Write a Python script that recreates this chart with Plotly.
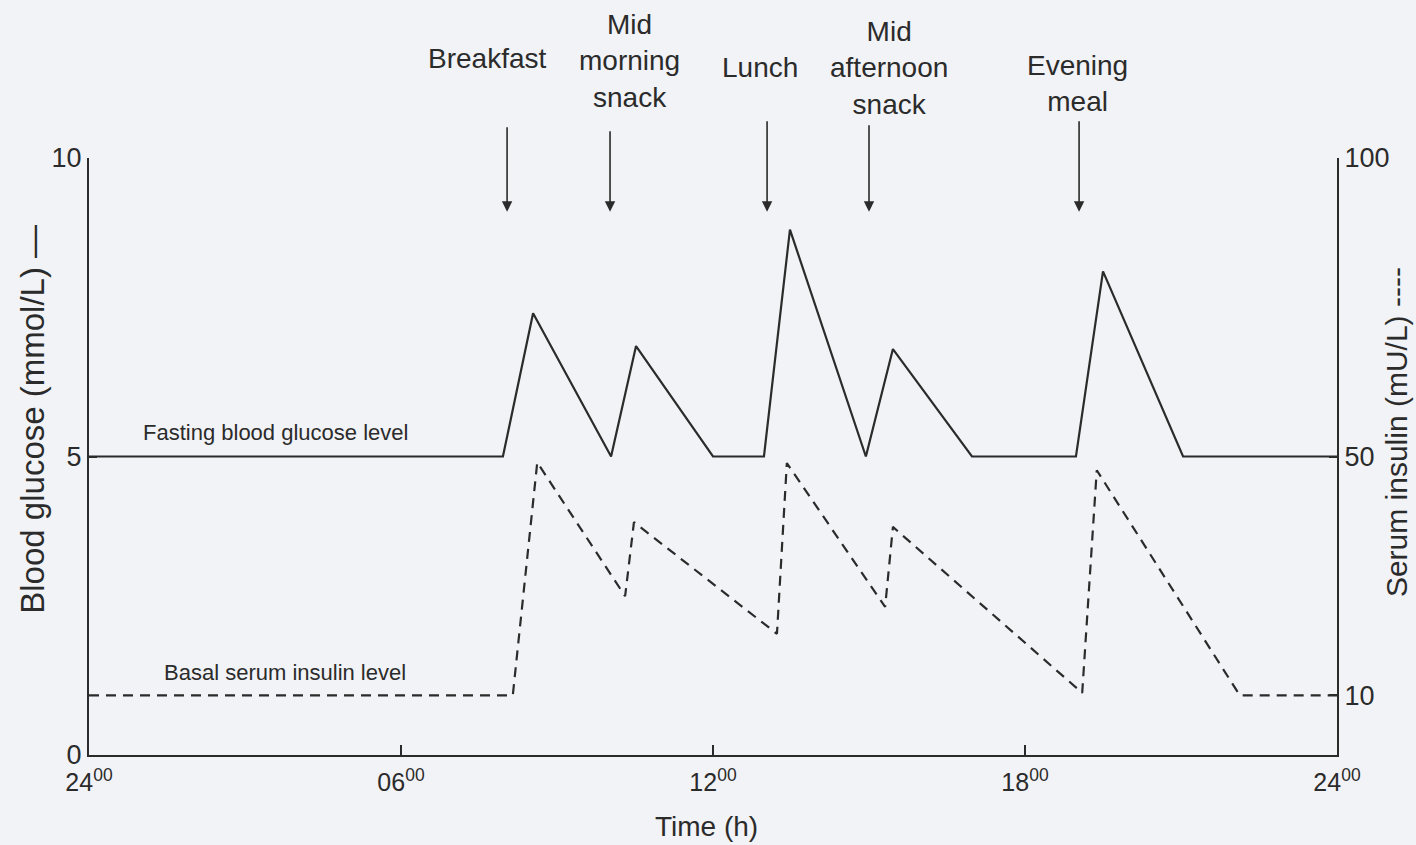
import plotly.graph_objects as go

# ---------------- data ----------------
glucose_time = [0, 7.96, 8.54, 10.04, 10.52, 12.0, 12.98, 13.48, 14.94, 15.46, 16.98, 18.98, 19.5, 21.04, 24]
glucose_val = [5.0, 5.0, 7.4, 5.0, 6.85, 5.0, 5.0, 8.8, 5.0, 6.8, 5.0, 5.0, 8.1, 5.0, 5.0]

insulin_time = [0, 8.15, 8.62, 10.31, 10.48, 13.23, 13.42, 15.31, 15.46, 19.1, 19.38, 22.13, 24]
insulin_val = [10, 10, 49, 26.6, 39, 20.3, 48.9, 24.8, 38.2, 10.4, 47.7, 10, 10]

meal_names = ["Breakfast", "Mid<br>morning<br>snack", "Lunch", "Mid<br>afternoon<br>snack", "Evening<br>meal"]
meal_times = [8.04, 10.02, 13.04, 15.0, 19.04]

x_tickvals = [0, 6, 12, 18, 24]
x_ticktext = ["24<sup>00</sup>", "06<sup>00</sup>", "12<sup>00</sup>", "18<sup>00</sup>", "24<sup>00</sup>"]
glucose_ticks = [0, 5, 10]
insulin_ticks = [10, 50, 100]

# ---------------- style / layout ----------------
INK = "#2b2b2b"
BG = "#f2f3f6"
FONT = "Liberation Sans, Arial, sans-serif"

# label placement (label centre hour, label centre in paper y)
label_x = [7.65, 10.4, 12.9, 15.38, 19.0]
label_y = [1.167, 1.162, 1.151, 1.151, 1.124]
arrow_tip = 9.1       # glucose units at arrow head
arrow_len = [-86, -82, -92, -88, -92]

fig = go.Figure()

fig.add_trace(go.Scatter(
    x=glucose_time, y=glucose_val, mode="lines",
    line=dict(color=INK, width=2.2), yaxis="y", showlegend=False,
    name="Blood glucose"))

fig.add_trace(go.Scatter(
    x=insulin_time, y=insulin_val, mode="lines",
    line=dict(color=INK, width=2.2, dash="10px,7px"), yaxis="y2", showlegend=False,
    name="Serum insulin"))

annotations = []
for name, t, lx, ly, al in zip(meal_names, meal_times, label_x, label_y, arrow_len):
    annotations.append(dict(
        x=t, y=arrow_tip, xref="x", yref="y", text="", showarrow=True,
        ax=0, ay=al, arrowhead=2, arrowsize=1.3, arrowwidth=1.6, arrowcolor=INK))
    annotations.append(dict(
        x=lx, y=ly, xref="x", yref="paper", text=name, showarrow=False,
        xanchor="center", yanchor="middle", align="center",
        font=dict(family=FONT, size=28, color=INK)))

annotations += [
    dict(x=3.58, y=5.41, xref="x", yref="y", text="Fasting blood glucose level",
         showarrow=False, xanchor="center", yanchor="middle",
         font=dict(family=FONT, size=22, color=INK)),
    dict(x=3.77, y=13.9, xref="x", yref="y2", text="Basal serum insulin level",
         showarrow=False, xanchor="center", yanchor="middle",
         font=dict(family=FONT, size=22, color=INK)),
    dict(x=-0.045, y=0.563, xref="paper", yref="paper", text="Blood glucose (mmol/L) —",
         showarrow=False, textangle=-90, xanchor="center", yanchor="middle",
         font=dict(family=FONT, size=33, color=INK)),
    dict(x=1.0625, y=0.54, xref="paper", yref="paper", text="Serum insulin (mU/L) ----",
         showarrow=False, textangle=-90, xanchor="right", yanchor="middle",
         font=dict(family=FONT, size=30, color=INK)),
    dict(x=0.495, y=-0.119, xref="paper", yref="paper", text="Time (h)",
         showarrow=False, xanchor="center", yanchor="middle",
         font=dict(family=FONT, size=28, color=INK)),
]

fig.update_layout(
    width=1416, height=845,
    margin=dict(l=89, r=79, t=158, b=90),
    paper_bgcolor=BG, plot_bgcolor=BG,
    font=dict(family=FONT, color=INK),
    xaxis=dict(range=[0, 24], tickvals=x_tickvals, ticktext=x_ticktext,
               showgrid=False, zeroline=False, showline=True, linecolor=INK, linewidth=2,
               ticks="inside", ticklen=10, tickwidth=1.5, tickcolor=INK,
               ticklabelstandoff=4,
               tickfont=dict(family=FONT, size=25, color=INK)),
    yaxis=dict(range=[0, 10], tickvals=glucose_ticks,
               showgrid=False, zeroline=False, showline=True, linecolor=INK, linewidth=2,
               ticks="inside", ticklen=8, tickwidth=1.5, tickcolor=INK,
               tickfont=dict(family=FONT, size=27, color=INK)),
    yaxis2=dict(range=[0, 100], tickvals=insulin_ticks, overlaying="y", side="right",
                showgrid=False, zeroline=False, showline=True, linecolor=INK, linewidth=2,
                ticks="inside", ticklen=8, tickwidth=1.5, tickcolor=INK,
                tickfont=dict(family=FONT, size=27, color=INK)),
    annotations=annotations,
    showlegend=False,
)

fig.write_html("out.html", config={"displayModeBar": False},
               post_script="document.body.style.margin='0px';document.body.style.background='%s';" % BG)
